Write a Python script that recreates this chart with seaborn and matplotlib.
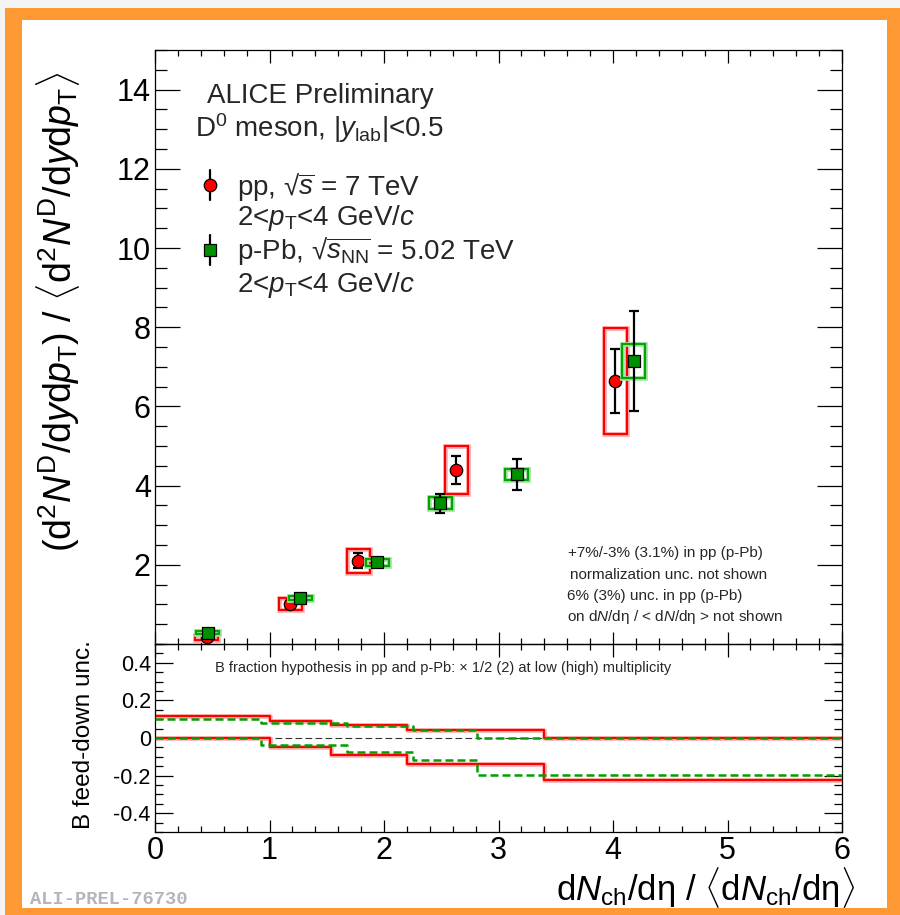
import numpy as np
import pandas as pd
import matplotlib
matplotlib.use("Agg")
import matplotlib.pyplot as plt
import seaborn as sns
from matplotlib.patches import Rectangle
from matplotlib.ticker import MultipleLocator
import matplotlib.patheffects as pe

# ---------------- data ----------------
pp_x = [0.45, 1.18, 1.775, 2.63, 4.02]
pp_y = [0.17, 1.00, 2.10, 4.39, 6.64]
pp_stat = [0.05, 0.08, 0.19, 0.35, 0.81]
pp_sys = [0.06, 0.15, 0.31, 0.61, 1.34]

ppb_x = [0.46, 1.27, 1.94, 2.49, 3.16, 4.18]
ppb_y = [0.28, 1.16, 2.06, 3.56, 4.29, 7.15]
ppb_stat = [0.03, 0.04, 0.07, 0.24, 0.39, 1.27]
ppb_sys = [0.04, 0.05, 0.08, 0.14, 0.14, 0.43]

pp_fd_edges = [0.0, 1.0, 1.54, 2.2, 3.4, 6.0]
pp_fd_up = [0.116, 0.093, 0.068, 0.044, 0.0]
pp_fd_lo = [0.0, -0.047, -0.091, -0.139, -0.223]

ppb_fd_edges = [0.0, 0.93, 1.68, 2.25, 2.81, 6.0]
ppb_fd_up = [0.10, 0.079, 0.062, 0.040, 0.0]
ppb_fd_lo = [0.0, -0.037, -0.077, -0.117, -0.196]

x_ticks = [0, 1, 2, 3, 4, 5, 6]
y1_ticks = [2, 4, 6, 8, 10, 12, 14]
y2_ticks = [-0.4, -0.2, 0, 0.2, 0.4]
y2_ticklabels = ["-0.4", "-0.2", "0", "0.2", "0.4"]

# ---------------- style ----------------
sns.set_theme(style="ticks")
plt.rcParams["font.family"] = ["Liberation Sans", "DejaVu Sans"]
plt.rcParams["mathtext.fontset"] = "custom"
plt.rcParams["mathtext.rm"] = "Liberation Sans"
plt.rcParams["mathtext.it"] = "Liberation Sans:italic"
plt.rcParams["mathtext.bf"] = "Liberation Sans:bold"

RED = "#ff0000"
GREEN_M = "#008f00"
GREEN_B = "#00a800"
ORANGE = "#ff9933"

W, H = 900, 915
fig = plt.figure(figsize=(W / 100, H / 100), dpi=100, facecolor="#f4f4f4")

# orange frame
fig.patches.append(Rectangle((5 / W, 0), (900 - 5) / W, 1 - 8 / H, transform=fig.transFigure,
                             facecolor=ORANGE, edgecolor="none", zorder=-10))
fig.patches.append(Rectangle((22 / W, 1 - 908 / H), (887 - 22) / W, (908 - 20) / H,
                             transform=fig.transFigure, facecolor="white", edgecolor="none", zorder=-9))

def fx(px):
    return px / W

def fy(py):
    return 1 - py / H

L, R = 155, 842
ax1 = fig.add_axes([fx(L), fy(644), fx(R) - fx(L), fy(50) - fy(644)])
ax2 = fig.add_axes([fx(L), fy(832), fx(R) - fx(L), fy(644) - fy(832)], sharex=ax1)
for ax in (ax1, ax2):
    ax.set_facecolor("none")
    for s in ax.spines.values():
        s.set_linewidth(0.9)
        s.set_color("black")

red_halo = [pe.Stroke(linewidth=3.4, foreground="#ffb3b3"), pe.Normal()]
green_halo = [pe.Stroke(linewidth=3.4, foreground="#a8e0a8"), pe.Normal()]

# ---------------- upper panel ----------------
half_w = 0.1
for x, y, s in zip(pp_x, pp_y, pp_sys):
    ax1.add_patch(Rectangle((x - half_w, y - s), 2 * half_w, 2 * s, fill=False,
                            edgecolor=RED, linewidth=1.6, path_effects=red_halo, zorder=3))
ax1.errorbar(pp_x, pp_y, yerr=pp_stat, fmt="none", ecolor="black", elinewidth=1.6,
             capsize=3.5, capthick=1.6, zorder=4)
sns.scatterplot(x=pp_x, y=pp_y, marker="o", color=RED, edgecolor="black", linewidth=0.9,
                s=80, ax=ax1, zorder=5)

for x, y, s in zip(ppb_x, ppb_y, ppb_sys):
    ax1.add_patch(Rectangle((x - half_w, y - s), 2 * half_w, 2 * s, fill=False,
                            edgecolor=GREEN_B, linewidth=1.6, path_effects=green_halo, zorder=6))
ax1.errorbar(ppb_x, ppb_y, yerr=ppb_stat, fmt="none", ecolor="black", elinewidth=1.6,
             capsize=3.5, capthick=1.6, zorder=7)
sns.scatterplot(x=ppb_x, y=ppb_y, marker="s", color=GREEN_M, edgecolor="black", linewidth=0.9,
                s=70, ax=ax1, zorder=8)

ax1.set_xlim(0, 6)
ax1.set_ylim(0, 15)
ax1.set_yticks(y1_ticks)
ax1.yaxis.set_minor_locator(MultipleLocator(0.5))
ax1.xaxis.set_major_locator(MultipleLocator(1))
ax1.xaxis.set_minor_locator(MultipleLocator(0.2))
ax1.tick_params(which="both", direction="in", top=True, right=True, colors="black")
ax1.tick_params(axis="y", which="major", length=18, width=0.9, labelsize=22, pad=3)
ax1.tick_params(axis="y", which="minor", length=8.5, width=0.9)
ax1.tick_params(axis="x", which="major", length=9, width=0.9, labelbottom=False)
ax1.tick_params(axis="x", which="minor", length=4.5, width=0.9)
ax1.set_xlabel("")
ax1.set_ylabel(r"$(\mathrm{d}^{2}N^{\mathrm{D}}/\mathrm{d}y\mathrm{d}p_{\mathrm{T}})\ /\ "
               r"\langle\mathrm{d}^{2}N^{\mathrm{D}}/\mathrm{d}y\mathrm{d}p_{\mathrm{T}}\rangle$",
               fontsize=27, color="black", va="center")
ax1.yaxis.set_label_coords((58 - L) / (R - L), (644 - 312) / 594)

def ax1_xy(px, py):
    return (px - L) / (R - L), (644 - py) / 594

def t1(px, py, s, **kw):
    x, y = ax1_xy(px, py)
    ax1.text(x, y, s, transform=ax1.transAxes, **kw)

tsz = 20
t1(207, 103, "ALICE Preliminary", fontsize=tsz, va="baseline", ha="left")
t1(195, 137, r"D$^{0}$ meson, |$y_{\mathrm{lab}}$|<0.5", fontsize=tsz, va="baseline", ha="left")
# legend glyphs
for (py, col, mk) in [(185, RED, "o"), (250, GREEN_M, "s")]:
    lx, ly = ax1_xy(210, py)
    ax1.plot([lx, lx], [ly - 0.025, ly + 0.025], color="black", lw=1.6,
             transform=ax1.transAxes, clip_on=False)
    ax1.plot([lx], [ly], marker=mk, color=col, markeredgecolor="black", markeredgewidth=0.9,
             markersize=9 if mk == "o" else 8.5, transform=ax1.transAxes, clip_on=False)
t1(237, 195, r"pp, √$\overline{s}$ = 7 TeV", fontsize=tsz, va="baseline", ha="left")
t1(237, 225, r"2<$p_{\mathrm{T}}$<4 GeV/$c$", fontsize=tsz, va="baseline", ha="left")
t1(237, 259, r"p-Pb, √$\overline{s_{\mathrm{NN}}}$ = 5.02 TeV", fontsize=tsz, va="baseline", ha="left")
t1(237, 292, r"2<$p_{\mathrm{T}}$<4 GeV/$c$", fontsize=tsz, va="baseline", ha="left")

nsz = 11
for py, px, txt in [(553, 568, "+7%/-3% (3.1%) in pp (p-Pb)"),
                    (575, 570, "normalization unc. not shown"),
                    (596, 567, "6% (3%) unc. in pp (p-Pb)"),
                    (617, 567, r"on d$N$/dη / < d$N$/dη > not shown")]:
    t1(px, py, txt, fontsize=nsz, va="center", ha="left")

# ---------------- lower panel ----------------
ax2.axhline(0, color="#333333", lw=0.8, ls=(0, (6, 3)), zorder=1)

def stairs_df(edges, vals):
    return pd.DataFrame({"x": edges, "y": list(vals) + [vals[-1]]})

for edges, vals in [(ppb_fd_edges, ppb_fd_up), (ppb_fd_edges, ppb_fd_lo)]:
    sns.lineplot(data=stairs_df(edges, vals), x="x", y="y", drawstyle="steps-post",
                 color="#00a000", lw=1.8, ls=(0, (3.2, 1.6)), estimator=None, sort=False,
                 ax=ax2, zorder=3)
for edges, vals in [(pp_fd_edges, pp_fd_up), (pp_fd_edges, pp_fd_lo)]:
    sns.lineplot(data=stairs_df(edges, vals), x="x", y="y", drawstyle="steps-post",
                 color=RED, lw=1.6, estimator=None, sort=False, ax=ax2, zorder=2,
                 path_effects=red_halo)

ax2.set_xlim(0, 6)
ax2.set_ylim(-0.5, 0.5)
ax2.set_yticks(y2_ticks)
ax2.set_yticklabels(y2_ticklabels)
ax2.yaxis.set_minor_locator(MultipleLocator(0.05))
ax2.set_xticks(x_ticks)
ax2.xaxis.set_minor_locator(MultipleLocator(0.2))
ax2.tick_params(which="both", direction="in", top=True, right=True, colors="black")
ax2.tick_params(axis="y", which="major", length=13, width=0.9, labelsize=15.5, pad=3)
ax2.tick_params(axis="y", which="minor", length=6, width=0.9)
ax2.tick_params(axis="x", which="major", length=9, width=0.9, labelsize=22, pad=3)
ax2.tick_params(axis="x", which="minor", length=4.5, width=0.9)
ax2.set_ylabel("B feed-down unc.", fontsize=17.5, color="black", va="center")
ax2.yaxis.set_label_coords((84 - L) / (R - L), (832 - 735) / 188)
ax2.set_xlabel(r"$\mathrm{d}N_{\mathrm{ch}}/\mathrm{dη}\ /\ \langle\mathrm{d}N_{\mathrm{ch}}/\mathrm{dη}\rangle$",
               fontsize=25, color="black", ha="right", va="center")
ax2.xaxis.set_label_coords((855 - L) / (R - L), (832 - 887) / 188)
ax2.text((215 - L) / (R - L), (832 - 668) / 188,
         "B fraction hypothesis in pp and p-Pb: × 1/2 (2) at low (high) multiplicity",
         fontsize=10.5, va="center", ha="left", transform=ax2.transAxes)

fig.text(fx(30), fy(900), "ALI-PREL-76730", fontsize=13.5, color="#b5b5b5",
         family=["Liberation Mono", "DejaVu Sans Mono"], fontweight="bold", va="center", ha="left")

fig.savefig("out.png", dpi=100, facecolor=fig.get_facecolor())
